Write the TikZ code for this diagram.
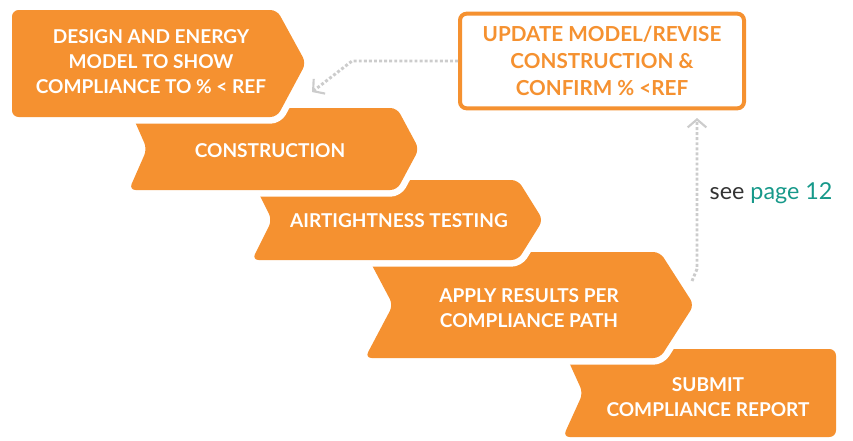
\documentclass[tikz,border=0pt]{standalone}
\usepackage{xcolor}
\usepackage{fontspec}
\setmainfont{Lato}
\usepackage{tikz}
\usetikzlibrary{arrows.meta}
\definecolor{stepfill}{HTML}{F59130}
\definecolor{loopgray}{HTML}{CCCCCC}
\definecolor{seeteal}{HTML}{17998A}
\definecolor{seedark}{HTML}{333333}

\begin{document}
\begin{tikzpicture}[x=0.75pt,y=-0.75pt,
    stepshape/.style={fill=stepfill,rounded corners=5pt,preaction={draw=white,line width=10pt}},
    steptext/.style={text=white,font=\fontsize{14.3}{18.75}\selectfont\bfseries,align=center},
    updatebox/.style={draw=stepfill,line width=3pt,rounded corners=5pt,fill=white,
      minimum width=213pt,minimum height=71pt,inner sep=0pt,text=stepfill,
      font=\fontsize{15.5}{20.5}\selectfont\bfseries,align=center},
    loopline/.style={draw=loopgray,line width=2.2pt,dash pattern=on 2.2pt off 1.6pt,
      -{Straight Barb[length=6pt,width=14pt,line width=1.6pt]}}]
      \useasboundingbox (0,0) rectangle (853,440);
      % steps, last one first so each one sits on the next
      \path [stepshape] (563,349) -- (836,349) -- (836,437) -- (563,437) -- (583,393) -- cycle;
      \path [stepshape] (365,252) -- (660,252) -- (694,305) -- (660,358) -- (365,358) -- (393,305) -- cycle;
      \path [stepshape] (252,180) -- (518,180) -- (543,220) -- (518,260) -- (252,260) -- (272,220) -- cycle;
      \path [stepshape] (129,108) -- (397,108) -- (419,149) -- (397,190) -- (129,190) -- (147,149) -- cycle;
      \path [stepshape] (12,10) -- (277,10) -- (306,63) -- (277,117) -- (12,117) -- cycle;
      \node [steptext] (design) at (151,62) {DESIGN AND ENERGY\\MODEL TO SHOW\\COMPLIANCE TO \% < REF};
      \node [steptext] (construction) at (270,151) {CONSTRUCTION};
      \node [steptext] (airtight) at (399,221) {AIRTIGHTNESS TESTING};
      \node [steptext] (apply) at (529,308) {APPLY RESULTS PER\\COMPLIANCE PATH};
      \node [steptext] (submit) at (708,397) {SUBMIT\\COMPLIANCE REPORT};
      % loop back
      \node [updatebox] (update) at (602,61) {UPDATE MODEL/REVISE\\CONSTRUCTION \&\\CONFIRM \% <REF};
      \node [anchor=west,text=seedark,font=\fontsize{17.5}{21}\selectfont] (seepage) at (705,193) {see \textcolor{seeteal}{page 12}};
      \coordinate (backtip) at (312,92);
      \coordinate (fromapply) at (692,281);
      \coordinate (uptip) at (697,118);
      \draw [loopline] (update.west) -- ++(-106,0) -- (backtip);
      \draw [loopline] (fromapply) -- ++(5,-12) -- (uptip);
    \end{tikzpicture}
\end{document}
